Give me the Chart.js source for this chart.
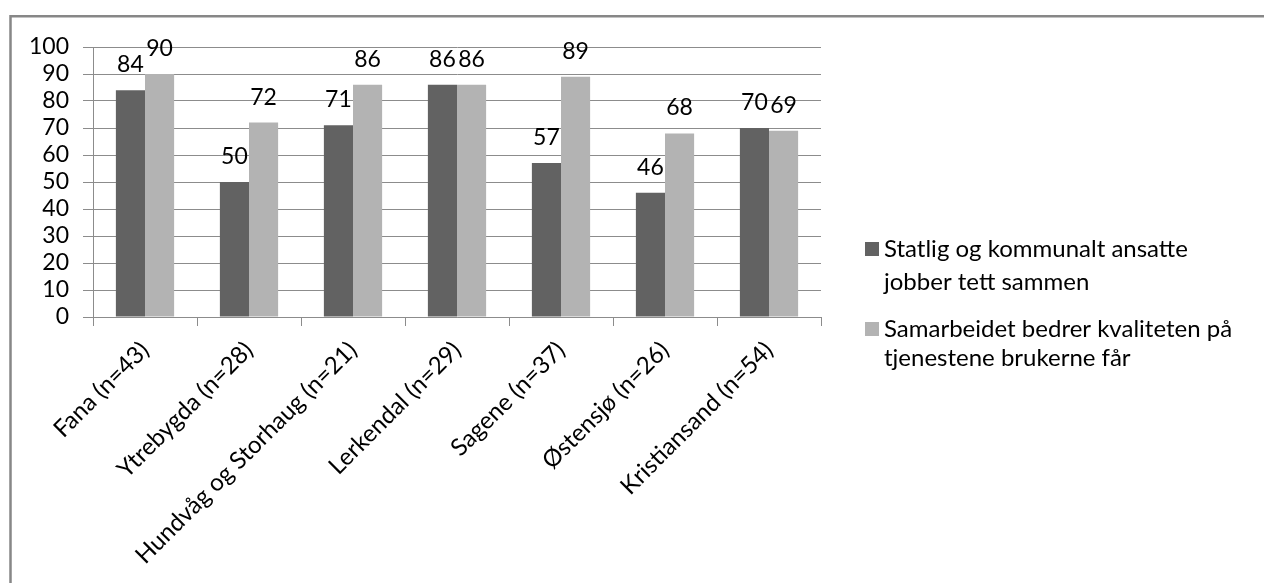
<!DOCTYPE html>
<html>
<head>
<meta charset="utf-8">
<script src="https://cdn.jsdelivr.net/npm/chart.js@4"></script>
<style>
  html, body { margin: 0; padding: 0; background: #fff; }
  #wrap { position: relative; width: 1264px; height: 583px; }
  canvas { display: block; }
</style>
</head>
<body>
<div id="wrap"><canvas id="c" width="1264" height="583"></canvas></div>
<script>
const categories = ["Fana (n=43)", "Ytrebygda (n=28)", "Hundvåg og Storhaug (n=21)", "Lerkendal (n=29)", "Sagene (n=37)", "Østensjø (n=26)", "Kristiansand (n=54)"];
const seriesNames = [
  ["Statlig og kommunalt ansatte", "jobber tett sammen"],
  ["Samarbeidet bedrer kvaliteten på", "tjenestene brukerne får"]
];
const tettSammen = [84, 50, 71, 86, 57, 46, 70];
const bedrerKvalitet = [90, 72, 86, 86, 89, 68, 69];
const yTicks = [0, 10, 20, 30, 40, 50, 60, 70, 80, 90, 100];

const FONT = "Lato";
const colors = ["#626262", "#b3b3b3"];

const dataLabels = {
  id: "dataLabels",
  afterDatasetsDraw(chart) {
    const ctx = chart.ctx;
    ctx.save();
    ctx.font = "23px " + FONT;
    ctx.fillStyle = "#000";
    ctx.textAlign = "center";
    ctx.textBaseline = "alphabetic";
    chart.data.datasets.forEach((ds, di) => {
      const meta = chart.getDatasetMeta(di);
      meta.data.forEach((bar, i) => {
        ctx.fillText(String(Math.round(ds.data[i])), bar.x, bar.y - 18);
      });
    });
    ctx.restore();
  }
};

const customLegend = {
  id: "customLegend",
  afterDraw(chart) {
    const ctx = chart.ctx;
    ctx.save();
    ctx.font = "24px " + FONT;
    ctx.fillStyle = "#000";
    ctx.textBaseline = "middle";
    const x0 = 865, tx = 884;
    const ys = [[249, 282], [329, 358]];
    chart.data.datasets.forEach((ds, di) => {
      ctx.fillStyle = ds.backgroundColor;
      ctx.fillRect(x0, ys[di][0] - 7, 14, 14);
      ctx.fillStyle = "#000";
      seriesNames[di].forEach((line, li) => ctx.fillText(line, tx, ys[di][li]));
    });
    ctx.restore();
  }
};

const frame = {
  id: "frame",
  beforeDraw(chart) {
    const ctx = chart.ctx;
    ctx.save();
    ctx.fillStyle = "#fff";
    ctx.fillRect(0, 0, chart.width, chart.height);
    ctx.strokeStyle = "#878787";
    ctx.lineWidth = 2.5;
    ctx.beginPath();
    ctx.moveTo(10.5, 600);
    ctx.lineTo(10.5, 16.2);
    ctx.lineTo(1300, 16.2);
    ctx.stroke();
    ctx.restore();
  }
};

new Chart(document.getElementById("c"), {
  type: "bar",
  data: {
    labels: categories,
    datasets: [
      { label: seriesNames[0].join(" "), data: tettSammen, backgroundColor: colors[0] },
      { label: seriesNames[1].join(" "), data: bedrerKvalitet, backgroundColor: colors[1] }
    ]
  },
  options: {
    responsive: false,
    animation: false,
    devicePixelRatio: 1,
    categoryPercentage: 0.56,
    barPercentage: 1.0,
    layout: { padding: { left: 0, top: 47, right: 443, bottom: 0 } },
    plugins: { legend: { display: false }, tooltip: { enabled: false } },
    scales: {
      x: {
        grid: { offset: true, drawOnChartArea: false, drawTicks: true, tickLength: 9, color: "#8c8c8c", lineWidth: 1 },
        border: { color: "#8c8c8c", width: 1 },
        ticks: { minRotation: 45, maxRotation: 45, autoSkip: false, font: { family: FONT, size: 24 }, color: "#000", padding: 10 },
        afterFit(s) { s.height = 583 - 317; }
      },
      y: {
        min: 0, max: 100,
        afterBuildTicks(s) { s.ticks = yTicks.map(v => ({ value: v })); },
        grid: { color: "#8c8c8c", lineWidth: 1, tickLength: 10 },
        border: { color: "#8c8c8c", width: 1 },
        ticks: { autoSkip: false, stepSize: 10, font: { family: FONT, size: 23 }, color: "#000", padding: 14 },
        afterFit(s) { s.width = 93; }
      }
    }
  },
  plugins: [frame, dataLabels, customLegend]
});
</script>
</body>
</html>
